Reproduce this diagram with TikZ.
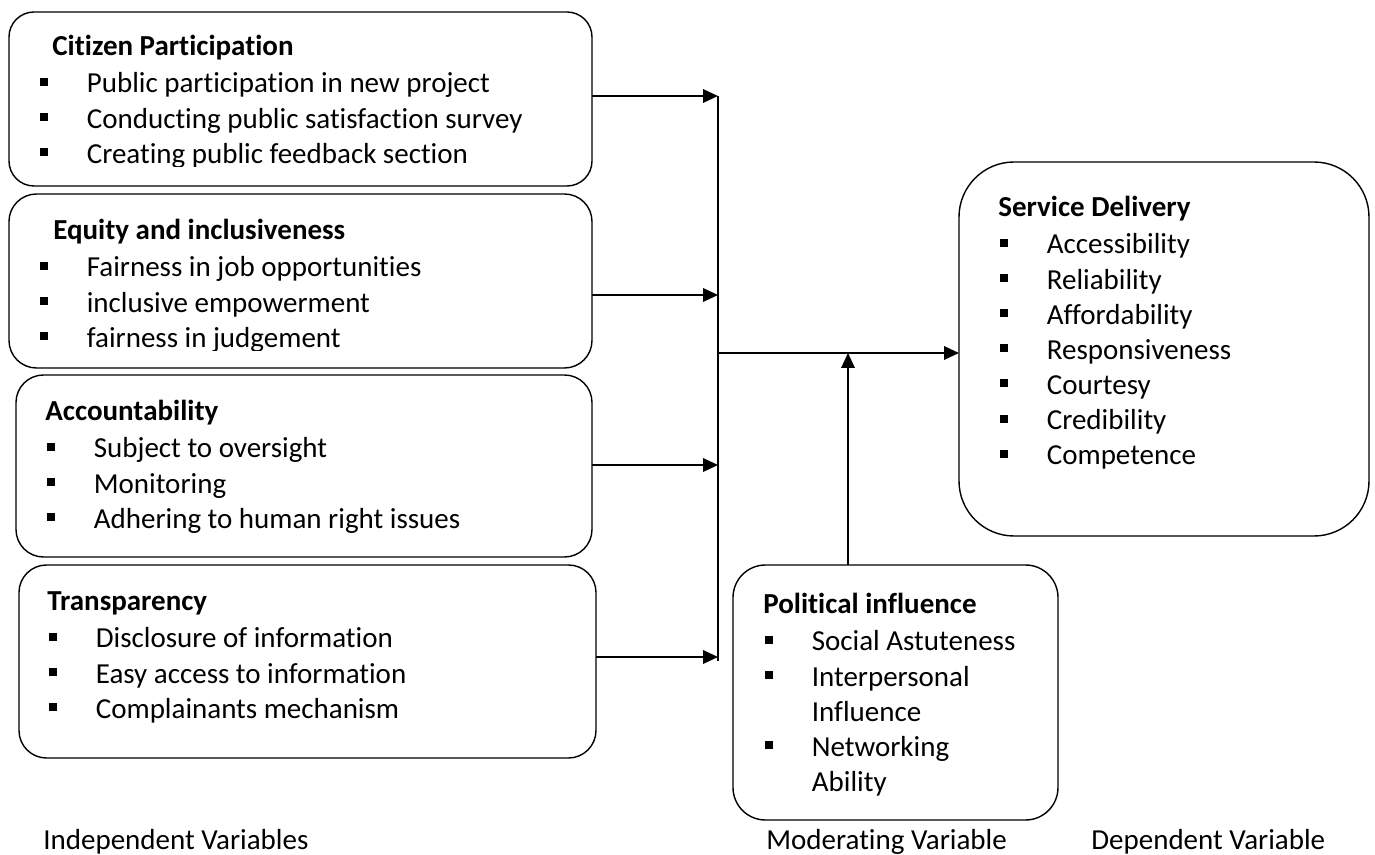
\documentclass[tikz,border=0pt]{standalone}
\usepackage{fontspec}
\setmainfont{Carlito}[Ligatures={NoCommon}]
\usepackage{tikz}
\usetikzlibrary{arrows.meta,positioning,calc}

\newcommand{\sqbul}{\rule[0.14cm]{0.16cm}{0.16cm}}
\newcommand{\vhead}[2]{\multicolumn{2}{@{\hspace{#1}}l@{}}{\textbf{#2}}\\[1pt]}

\begin{document}
\begin{tikzpicture}[
    varbox/.style={rectangle, draw=black, line width=0.8pt, rounded corners=0.55cm, inner sep=0pt, outer sep=0pt},
    vlist/.style={anchor=base west, inner sep=0pt, font=\fontsize{16.5}{20}\selectfont},
    caption/.style={anchor=base west, inner sep=0pt, font=\fontsize{16.5}{20}\selectfont},
    arrow/.style={draw, line width=1.1pt, -{Triangle[length=0.3cm,width=0.27cm]}},
    rail/.style={draw, line width=0.6pt}
]
    \useasboundingbox (0,0) rectangle (27.5,-17.1);

    % Independent variables
    \node[varbox, rounded corners=0.5cm, minimum width=11.66cm, minimum height=3.48cm] (cit) at (6.01,-1.98) {};
    \node[varbox, minimum width=11.66cm, minimum height=3.48cm] (equ) at (6.01,-5.62) {};
    \node[varbox, minimum width=11.52cm, minimum height=3.64cm] (acc) at (6.08,-9.32) {};
    \node[varbox, minimum width=11.54cm, minimum height=3.86cm] (tra) at (6.15,-13.23) {};

    \begin{scope}
        \clip (0,-0.3) rectangle (12,-3.33);
        \node[vlist] (citlist) at (0.80,-1.12) {\begin{tabular}[t]{@{}p{0.93cm}@{}l@{}}
            \vhead{0.24cm}{Citizen Participation}
            \sqbul & Public participation in new project\\
            \sqbul & Conducting public satisfaction survey\\
            \sqbul & Creating public feedback section
        \end{tabular}};
    \end{scope}
    \begin{scope}
        \clip (0,-3.95) rectangle (12,-7.01);
        \node[vlist] (equlist) at (0.80,-4.80) {\begin{tabular}[t]{@{}p{0.93cm}@{}l@{}}
            \vhead{0.26cm}{Equity and inclusiveness}
            \sqbul & Fairness in job opportunities\\
            \sqbul & inclusive empowerment\\
            \sqbul & fairness in judgement
        \end{tabular}};
    \end{scope}
    \node[vlist] (acclist) at (0.94,-8.42) {\begin{tabular}[t]{@{}p{0.93cm}@{}l@{}}
        \vhead{-0.04cm}{Accountability}
        \sqbul & Subject to oversight\\
        \sqbul & Monitoring\\
        \sqbul & Adhering to human right issues
    \end{tabular}};
    \node[vlist] (tralist) at (0.98,-12.22) {\begin{tabular}[t]{@{}p{0.93cm}@{}l@{}}
        \vhead{-0.04cm}{Transparency}
        \sqbul & Disclosure of information\\
        \sqbul & Easy access to information\\
        \sqbul & Complainants mechanism
    \end{tabular}};

    % Moderating variable
    \node[varbox, rounded corners=0.65cm, minimum width=6.5cm, minimum height=5.1cm] (pol) at (17.91,-13.85) {};
    \node[vlist] (pollist) at (15.30,-12.28) {\begin{tabular}[t]{@{}p{0.93cm}@{}l@{}}
        \vhead{-0.04cm}{Political influence}
        \sqbul & Social Astuteness\\
        \sqbul & Interpersonal\\
               & Influence\\
        \sqbul & Networking\\
               & Ability
    \end{tabular}};

    % Dependent variable
    \node[varbox, rounded corners=1.1cm, minimum width=8.2cm, minimum height=7.48cm] (serv) at (23.28,-6.98) {};
    \node[vlist] (servlist) at (20.00,-4.34) {\begin{tabular}[t]{@{}p{0.93cm}@{}l@{}}
        \vhead{-0.04cm}{Service Delivery}
        \sqbul & Accessibility\\
        \sqbul & Reliability\\
        \sqbul & Affordability\\
        \sqbul & Responsiveness\\
        \sqbul & Courtesy\\
        \sqbul & Credibility\\
        \sqbul & Competence
    \end{tabular}};

    % Captions
    \node[caption] (indlab) at (0.86,-16.98) {Independent Variables};
    \node[caption] (modlab) at (15.32,-16.98) {Moderating Variable};
    \node[caption] (deplab) at (21.82,-16.98) {Dependent Variable};

    % Connections
    \coordinate (j1) at (14.36,-1.92);
    \coordinate (j2) at (14.36,-5.90);
    \coordinate (j3) at (14.36,-9.30);
    \coordinate (j4) at (14.36,-13.14);
    \coordinate (hub) at (14.36,-7.06);
    \coordinate (mod) at (16.96,-7.06);

    \path [arrow] (cit.east |- j1) -- (j1);
    \path [arrow] (equ.east |- j2) -- (j2);
    \path [arrow] (acc.east |- j3) -- (j3);
    \path [arrow] (tra.east |- j4) -- (j4);
    \path [rail] (j1) -- ([yshift=-0.08cm]j4);

    \path [arrow] (hub) -- (hub -| serv.west);
    \path [arrow] (pol.north -| mod) -- (mod);
\end{tikzpicture}
\end{document}
